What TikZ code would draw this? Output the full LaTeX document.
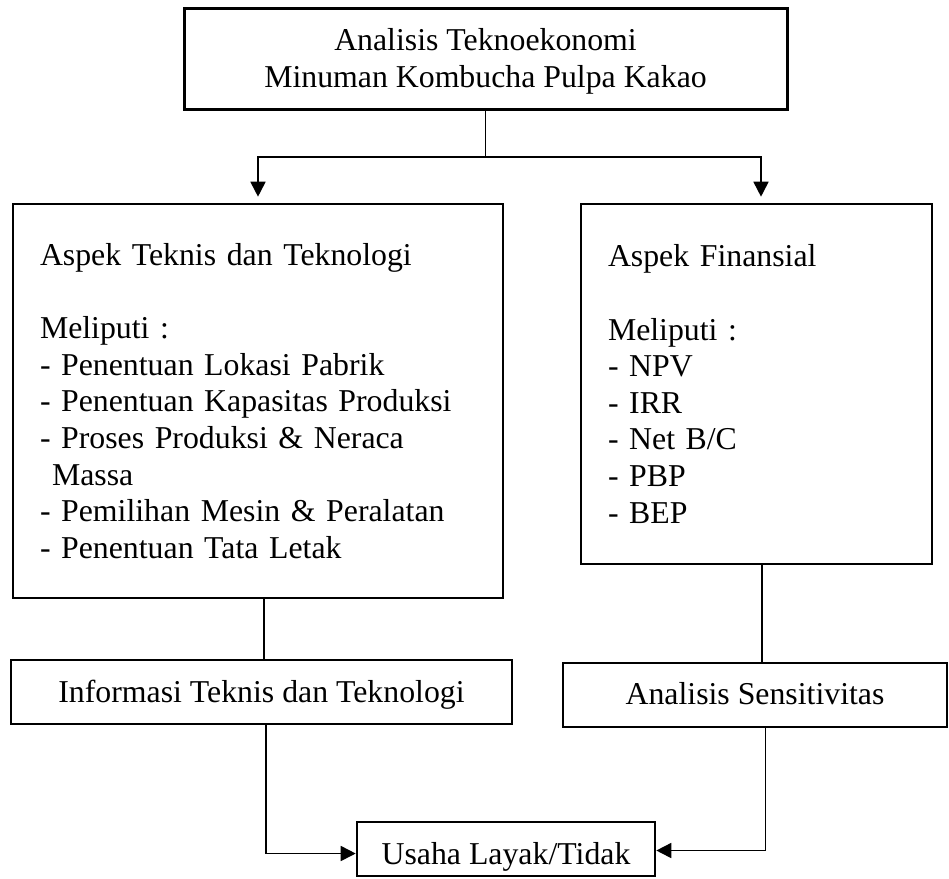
\documentclass[tikz,border=0pt]{standalone}
\usepackage{fontspec}
\setmainfont{Liberation Serif}
\usetikzlibrary{arrows.meta,calc}
\begin{document}
\begin{tikzpicture}[x=1pt,y=-1pt,
  box/.style={draw=black,line width=2.6pt,inner sep=0pt,font=\fontsize{31.8}{36.6}\selectfont},
  conn/.style={draw=black,line width=1.7pt},
  arr/.style={conn,-{Triangle[length=15pt,width=15pt]}}]
\useasboundingbox (0,0) rectangle (949,878);
% top box
\node[box,line width=3pt,minimum width=603pt,minimum height=101pt,align=center] (top) at (485.5,58.5)
  {\rule{0pt}{28pt}Analisis Teknoekonomi\\Minuman Kombucha Pulpa Kakao};
% left box
\node[box,minimum height=394pt,text width=436pt,inner xsep=27pt,align=left] (lbox) at (258,401)
  {Aspek Teknis dan Teknologi\\[36.6pt]
   Meliputi :\\
   - Penentuan Lokasi Pabrik\\
   - Penentuan Kapasitas Produksi\\
   - Proses Produksi \& Neraca\\
   \hspace*{12pt}Massa\\
   - Pemilihan Mesin \& Peralatan\\
   - Penentuan Tata Letak};
% right box
\node[box,minimum height=360pt,text width=297pt,inner xsep=27pt,align=left] (rbox) at (756.5,384)
  {Aspek Finansial\\[36.6pt]
   Meliputi :\\
   - NPV\\
   - IRR\\
   - Net B/C\\
   - PBP\\
   - BEP};
% info box
\node[box,minimum width=501pt,minimum height=64pt,text height=27pt,text depth=7pt] (info) at (261.5,692)
  {Informasi Teknis dan Teknologi};
% sensitivity box
\node[box,minimum width=384pt,minimum height=64pt,text height=25pt,text depth=7pt] (sens) at (755,695)
  {Analisis Sensitivitas};
% result box
\node[box,minimum width=298pt,minimum height=54pt,text height=38pt,text depth=7pt] (usaha) at (506,849)
  {Usaha Layak/Tidak};
% connectors
\coordinate (split) at (top.south |- 0,157);
\draw[conn] (top.south) -- (split);
\draw[arr,shorten >=6pt] (split) -| (lbox.north);
\draw[arr,shorten >=6pt] (split) -| ([xshift=4.5pt]rbox.north);
\draw[conn] ([xshift=2.5pt]info.north) -- ([xshift=2.5pt]info.north |- lbox.south);
\draw[conn] ([xshift=7pt]sens.north) -- ([xshift=7pt]sens.north |- rbox.south);
\draw[arr] ([xshift=4.5pt]info.south) |- ([yshift=-4.5pt]usaha.west);
\draw[arr] ([xshift=10.5pt]sens.south) |- ([yshift=-1.5pt]usaha.east);
\end{tikzpicture}
\end{document}
